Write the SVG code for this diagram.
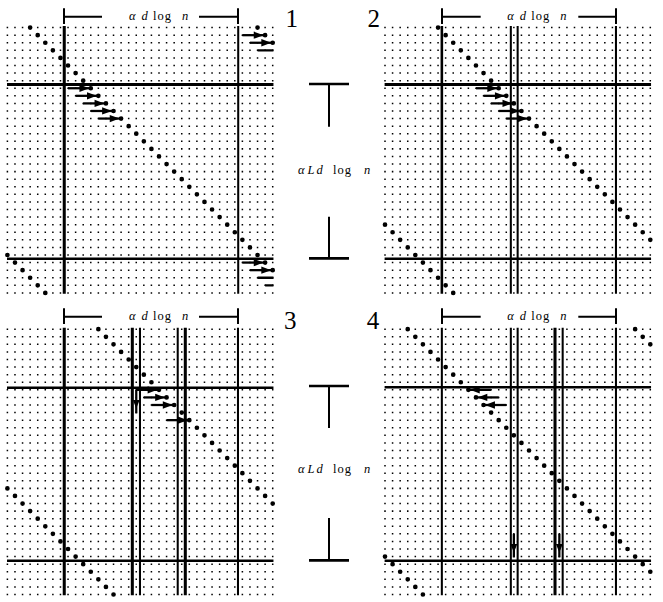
<svg xmlns="http://www.w3.org/2000/svg" width="663" height="602" viewBox="0 0 663 602">
<style>
.g{fill:none;stroke:#000;stroke-width:.2;stroke-dasharray:.2 .8}
.d{fill:none;stroke:#000;stroke-width:.62;stroke-linecap:round;stroke-dasharray:0 1.41421356}
.k{fill:none;stroke:#000;stroke-width:.4}
.m{fill:none;stroke:#000;stroke-width:.34}
.t{fill:none;stroke:#000;stroke-width:.27}
.a{fill:none;stroke:#000;stroke-width:.3}
.h{fill:#000}
.r{fill:none;stroke:#000;stroke-width:2}
.rb{fill:none;stroke:#000;stroke-width:2.7}
.lbl{font-family:"Liberation Serif",serif;font-size:12.5px;fill:#000}
.i{font-style:italic}
.num{font-family:"Liberation Serif",serif;font-size:25px;fill:#000;text-anchor:middle}
</style>
<defs>
<path id="gr" class="g" d="M-.1 0h35.2M-.1 1h35.2M-.1 2h35.2M-.1 3h35.2M-.1 4h35.2M-.1 5h35.2M-.1 6h35.2M-.1 7h35.2M-.1 8h35.2M-.1 9h35.2M-.1 10h35.2M-.1 11h35.2M-.1 12h35.2M-.1 13h35.2M-.1 14h35.2M-.1 15h35.2M-.1 16h35.2M-.1 17h35.2M-.1 18h35.2M-.1 19h35.2M-.1 20h35.2M-.1 21h35.2M-.1 22h35.2M-.1 23h35.2M-.1 24h35.2M-.1 25h35.2M-.1 26h35.2M-.1 27h35.2M-.1 28h35.2M-.1 29h35.2M-.1 30h35.2M-.1 31h35.2M-.1 32h35.2M-.1 33h35.2M-.1 34h35.2M-.1 35h35.2"/>
<g id="ar"><path class="a" d="M-3 0H0"/><path class="h" d="M-.2 0L-1.5 -.48V.48Z"/></g>
<g id="al"><path class="a" d="M3 0H0"/><path class="h" d="M.2 0L1.5 -.48V.48Z"/></g>
<g id="ad"><path class="a" d="M0 0V3.1"/><path class="h" d="M0 2.45L-.45 1.35H.45Z"/></g>
</defs>

<g id="panel1" transform="translate(7.4 27.6) scale(7.58)">
<use href="#gr"/>
<path class="k" d="M7.5 -.2V35.1M-.05 7.5H35.1"/>
<path class="t" d="M30.45 -.2V35.1"/>
<path class="m" d="M-.05 30.5H35.1"/>
<path class="d" d="M3 0L35.02 32.02M0 30L5.02 35.02M33 0L35.02 2.02"/>
<g id="arrows1">
<use href="#ar" x="11" y="8"/><use href="#ar" x="12" y="9"/><use href="#ar" x="13" y="10"/><use href="#ar" x="14" y="11"/><use href="#ar" x="15" y="12"/>
<use href="#ar" x="34" y="1"/><use href="#ar" x="35" y="2"/><use href="#ar" x="34" y="31"/><use href="#ar" x="35" y="32"/>
<path class="a" d="M33 3H35.1M33 33H35.1M34 34H35.1"/>
</g>
</g>

<g id="panel2" transform="translate(385 27.6) scale(7.58)">
<use href="#gr"/>
<path class="k" d="M-.05 7.5H35.1"/>
<path class="m" d="M7.5 -.2V35.1M-.05 30.5H35.1"/>
<path class="t" d="M16.6 -.2V35.1M17.5 -.2V35.1M30.47 -.2V35.1"/>
<path class="d" d="M7 0L35.02 28.02M0 26L9.02 35.02"/>
<g id="arrows2">
<use href="#ar" x="15" y="8"/><use href="#ar" x="16" y="9"/><use href="#ar" x="17" y="10"/><use href="#ar" x="18" y="11"/><use href="#ar" x="19" y="12"/>
</g>
</g>

<g id="panel3" transform="translate(7.4 329.2) scale(7.58)">
<use href="#gr"/>
<path class="k" d="M7.5 -.2V35.1M16.48 -.2V35.1M23.47 -.2V35.1"/>
<path class="t" d="M17.49 -.2V35.1M22.47 -.2V35.1M30.42 -.2V35.1"/>
<path class="m" d="M-.05 7.72H35.1M-.05 30.54H35.1"/>
<path class="d" d="M12 0L35.02 23.02M0 21L14.02 35.02"/>
<g id="arrows3">
<use href="#ar" x="20" y="8"/><use href="#ar" x="21" y="9"/><use href="#ar" x="22" y="10"/><use href="#ar" x="24" y="12"/>
<use href="#ad" x="17" y="8"/>
</g>
</g>

<g id="panel4" transform="translate(385 329.2) scale(7.58)">
<use href="#gr"/>
<path class="t" d="M7.5 -.2V35.1M16.6 -.2V35.1M17.5 -.2V35.1M23.44 -.2V35.1M30.47 -.2V35.1"/>
<path class="k" d="M22.43 -.2V35.1"/>
<path class="m" d="M-.05 7.66H35.1M-.05 30.54H35.1"/>
<path class="d" d="M3 0L35.02 32.02M0 30L5.02 35.02M33 0L35.02 2.02"/>
<g id="arrows4">
<use href="#al" x="11" y="8"/><use href="#al" x="12" y="9"/><use href="#al" x="13" y="10"/>
<use href="#ad" x="17" y="27"/><use href="#ad" x="23" y="27"/>
</g>
</g>

<g id="ruler1">
<path class="r" d="M64 8.3V24M238 8.3V24M64 16.7H102M199 16.7H238"/>
<text class="lbl" y="19.5"><tspan class="i" x="129">α</tspan><tspan class="i" x="141.5">d</tspan><tspan x="153" letter-spacing="1">log</tspan><tspan class="i" x="182">n</tspan></text>
</g>
<g id="ruler2">
<path class="r" d="M442 8.3V24M616 8.3V24M442 16.7H480.7M578.3 16.7H616"/>
<text class="lbl" y="19.5"><tspan class="i" x="507.2">α</tspan><tspan class="i" x="519.7">d</tspan><tspan x="531.2" letter-spacing="1">log</tspan><tspan class="i" x="560.2">n</tspan></text>
</g>
<g id="ruler3">
<path class="r" d="M64 308.3V324M238 308.3V324M64 316.7H102M199 316.7H238"/>
<text class="lbl" y="319.5"><tspan class="i" x="129">α</tspan><tspan class="i" x="141.5">d</tspan><tspan x="153" letter-spacing="1">log</tspan><tspan class="i" x="182">n</tspan></text>
</g>
<g id="ruler4">
<path class="r" d="M442 308.3V324M616 308.3V324M442 316.7H480.7M578.3 316.7H616"/>
<text class="lbl" y="319.5"><tspan class="i" x="507.2">α</tspan><tspan class="i" x="519.7">d</tspan><tspan x="531.2" letter-spacing="1">log</tspan><tspan class="i" x="560.2">n</tspan></text>
</g>

<g id="bracket1">
<path class="rb" d="M309 84H349M309 258.3H349"/>
<path class="r" d="M329 84V126.7M329 216.7V258.3"/>
<text class="lbl" y="174"><tspan class="i" x="298">α</tspan><tspan class="i" x="307.5">L</tspan><tspan class="i" x="316.5">d</tspan><tspan x="333" letter-spacing="1">log</tspan><tspan class="i" x="364">n</tspan></text>
</g>
<g id="bracket2">
<path class="rb" d="M309 386H349M309 560.3H349"/>
<path class="r" d="M329 386V428M329 518V560.3"/>
<text class="lbl" y="473"><tspan class="i" x="298">α</tspan><tspan class="i" x="307.5">L</tspan><tspan class="i" x="316.5">d</tspan><tspan x="333" letter-spacing="1">log</tspan><tspan class="i" x="364">n</tspan></text>
</g>

<g id="labels">
<text class="num" x="291.7" y="27">1</text>
<text class="num" x="373.7" y="27">2</text>
<text class="num" x="290.3" y="329">3</text>
<text class="num" x="373" y="329">4</text>
</g>
</svg>
